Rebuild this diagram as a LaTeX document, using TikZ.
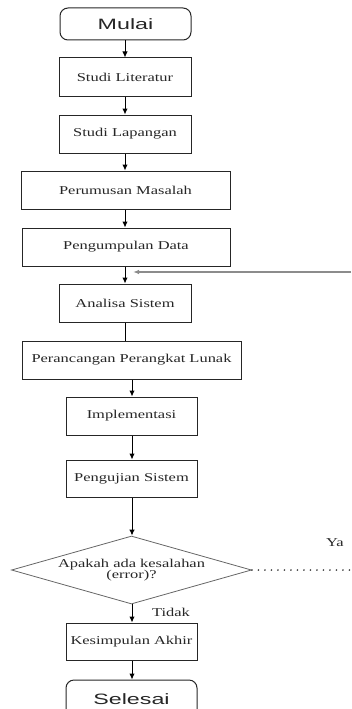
\documentclass[tikz,border=0pt]{standalone}
\usepackage{fontspec}
\newfontfamily\boxfont[FakeStretch=1.37]{Liberation Serif}
\newfontfamily\termfont[FakeStretch=1.55]{Liberation Sans}
\usetikzlibrary{arrows.meta, positioning, shapes.geometric}

\begin{document}
\begin{tikzpicture}[x=1pt, y=-1pt,
  every node/.style={text=black!85},
  proses/.style={draw=black!85, line width=1pt, minimum width=132pt, minimum height=38pt,
    inner sep=0pt, font=\boxfont\fontsize{12}{12}\selectfont},
  terminal/.style={proses, rounded corners=8pt, font=\termfont\fontsize{15}{15}\selectfont},
  keputusan/.style={diamond, draw=black!60, line width=0.8pt, aspect=3.5, minimum width=240pt,
    minimum height=68pt, inner sep=0pt, align=center, font=\boxfont\fontsize{12}{11}\selectfont},
  label/.style={font=\boxfont\fontsize{12}{12}\selectfont},
  panah/.style={-{Latex[length=6pt, width=5.5pt]}, line width=1pt},
  balik/.style={-{Latex[length=6pt, width=4.5pt]}, line width=1.3pt, black!45}]
  \useasboundingbox (0,0) rectangle (351,709);
  \clip (0,0) rectangle (351,709);
  % Tahapan penelitian
  \node[terminal, minimum width=131pt, minimum height=32pt] (mulai) at (125.5,24) {Mulai};
  \node[proses] (literatur) at (125,77) {Studi Literatur};
  \node[proses] (lapangan) at (125,134) {Studi Lapangan};
  \node[proses, minimum width=209pt] (rumusan) at (125.5,190) {Perumusan Masalah};
  \node[proses, minimum width=208pt] (kumpul) at (126,247) {Pengumpulan Data};
  \node[proses] (analisa) at (125,303) {Analisa Sistem};
  \node[proses, minimum width=219pt] (rancang) at (131.5,360) {Perancangan Perangkat Lunak};
  \node[proses, minimum width=131pt] (implementasi) at (131.5,416) {Implementasi};
  \node[proses, minimum width=131pt, minimum height=37pt] (pengujian) at (131.5,478.5) {Pengujian Sistem};
  \node[keputusan] (cek) at (131.5,570) {Apakah ada kesalahan\\(error)?};
  \node[proses, minimum width=131pt, minimum height=37pt] (kesimpulan) at (131.5,641.5) {Kesimpulan Akhir};
  \node[terminal, minimum width=131pt] (selesai) at (131.5,699) {Selesai};
  % Label percabangan
  \node[label] (ya) at (335,543) {Ya};
  \node[label] (tidak) at (171,612) {Tidak};
  \coordinate (kanan) at (351,272);
  \coordinate (ujung) at (351,570);
  % Alur utama
  \draw[panah] (mulai.south -| 125,0) -- (literatur.north -| 125,0);
  \draw[panah] (literatur) -- (lapangan);
  \draw[panah] (lapangan.south -| 125,0) -- (rumusan.north -| 125,0);
  \draw[panah] (rumusan.south -| 125,0) -- (kumpul.north -| 125,0);
  \draw[panah] (kumpul.south -| 125,0) -- (analisa.north -| 125,0);
  \draw[line width=1pt] (analisa.south -| 125,0) -- (rancang.north -| 125,0);
  \draw[panah] (rancang.south -| 132,0) -- (implementasi.north -| 132,0);
  \draw[panah] (implementasi.south -| 132,0) -- (pengujian.north -| 132,0);
  \draw[panah] (pengujian.south -| 132,0) -- (cek.north -| 132,0);
  \draw[panah] (cek.south -| 132,0) -- (kesimpulan.north -| 132,0);
  \draw[panah] (kesimpulan.south -| 132,0) -- (selesai.north -| 132,0);
  % Alur kembali bila ada kesalahan
  \draw[black!75, line width=1.8pt, line cap=round, dash pattern=on 0pt off 6.5pt] (cek.east) -- (ujung);
  \draw[balik] (kanan) -- (133,272);
\end{tikzpicture}
\end{document}
